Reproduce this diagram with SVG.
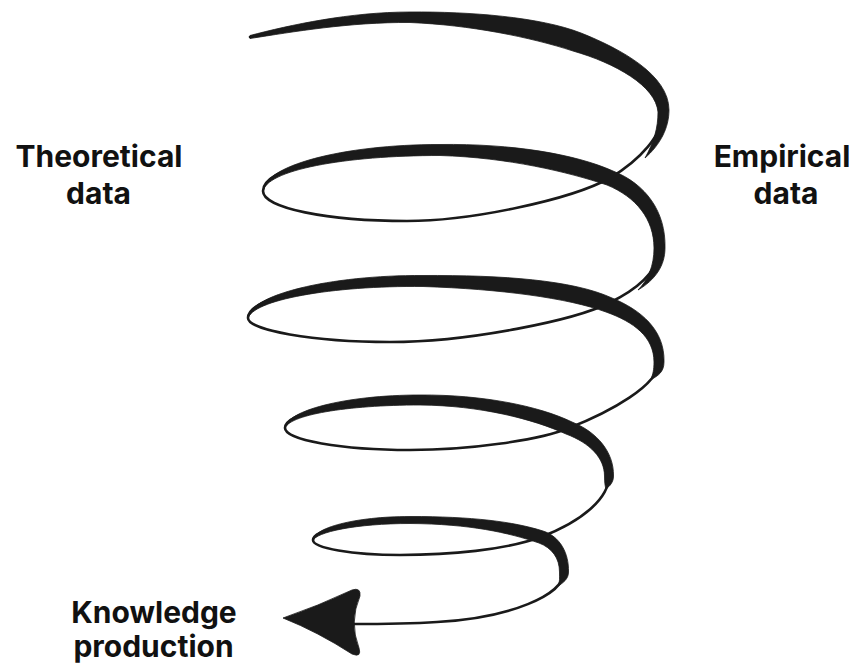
<svg xmlns="http://www.w3.org/2000/svg" width="854" height="665" viewBox="0 0 854 665">
  <style>
    .label { font-family: Inter, "Liberation Sans", Arial, sans-serif; font-size: 30px; font-weight: 700; fill: #111111; text-anchor: middle; }
    .spine { fill: none; stroke: #1a1a1a; stroke-width: 2.6; stroke-linecap: round; stroke-linejoin: round; }
    .swell { fill: #1a1a1a; stroke: #1a1a1a; stroke-width: 0.8; stroke-linejoin: round; }
  </style>
  <rect width="854" height="665" fill="#ffffff"/>

  <!-- spiral: thin centre line plus swelling brush strokes on each upper arc -->
  <g id="connectors">
    <path id="spiral-spine" class="spine" d="M250,37 C300,24 360,17 420,17 C530,17 665,58 663,112 C663,135 640,160 610,178 C570,200 470,221 407,221 C327,221 263,208 263,191 C263,168 342,150 440,150 C510,150 570,163 610,178 C640,190 659,215 659,248 C659,270 640,288 609,303 C575,320 470,342 390,342 C312,342 248,330 248,318 C248,297 330,280 423,281 C500,282 570,290 609,305 C637,316 659,333 659,362 C659,385 610,412 569,428 C540,440 470,450 410,450 C341,450 285,440 285,428 C285,413 345,400 420,400 C480,400 535,413 569,428 C592,438 609,455 609,476 C609,497 585,520 541,537 C505,550 450,555 400,555 C352,555 313,548 313,540 C313,530 355,520 410,520 C470,520 510,527 541,537 C555,543 564,556 564,572 C564,595 510,618 437,622 C405,624 380,624 352,624"/>
    <path id="swell-0" class="swell" d="M250,35.5 C290,25 350,12 410,12 C470,11.5 540,17 581,33 C621,49 669,75 669,110 C669,128 660,145 645,158 C654,142 658,128 658,112 C656,86 615,63 573,51 C530,37 470,25 410,22.5 C350,22 292,32 250,38.5 Z"/>
    <path id="swell-1" class="swell" d="M263,192 C262,166 342,144.5 440,144.5 C512,143.5 575,154 613,171 C646,184 666,212 665,248 C665,266 655,280 638,290 C648,280 654,266 654,248 C654,219 636,197 607,185 C568,172 508,157.5 440,155.5 C345,155.5 265,170 263,192 Z"/>
    <path id="swell-2" class="swell" d="M248,319 C247,295 330,275 423,275.5 C502,275 573,280 612,298 C641,310 665,330 664,362 C664,372 658,376 650.7,379.7 C653,374 654,370 654,362 C654,337 634,322 606,312 C568,298 500,289 423,286.5 C332,285.5 251,300 248,319 Z"/>
    <path id="swell-3" class="swell" d="M285,429 C284,411 345,395 420,395 C482,394.5 539,406 572,422 C597,432 614,452 613.5,476 C613.5,482 610,486 606,489 C605,486 604.5,482 604.5,476 C604.5,458 590,443 566,434 C533,419 480,405.5 420,405 C347,405 287,415 285,429 Z"/>
    <path id="swell-4" class="swell" d="M313,541 C312,528 355,516.5 410,516.5 C472,516.5 513,521.5 543,531 C560,536.5 569,553 568.5,572 C568.5,579 563,583 558,586 C560,582 559.5,578 559.5,572 C559.5,558 552,548 539,543 C508,532.5 470,524 410,523.5 C357,523.5 315,532 313,541 Z"/>
    <!-- arrowhead at the end of the spiral -->
    <path id="arrowhead" class="swell" stroke-width="1.5" d="M283,618 Q318,606 352,590 Q361,587 360,596 Q349,622 359,648 Q362,658 352,654 Q318,632 283,618 Z"/>
  </g>

  <g id="node-theoretical">
    <text class="label" x="99" y="167">Theoretical</text>
    <text class="label" x="98.5" y="204">data</text>
  </g>
  <g id="node-empirical">
    <text class="label" x="782" y="167">Empirical</text>
    <text class="label" x="786" y="204">data</text>
  </g>
  <g id="node-knowledge">
    <text class="label" x="154" y="623">Knowledge</text>
    <text class="label" x="153.5" y="657">production</text>
  </g>
</svg>
